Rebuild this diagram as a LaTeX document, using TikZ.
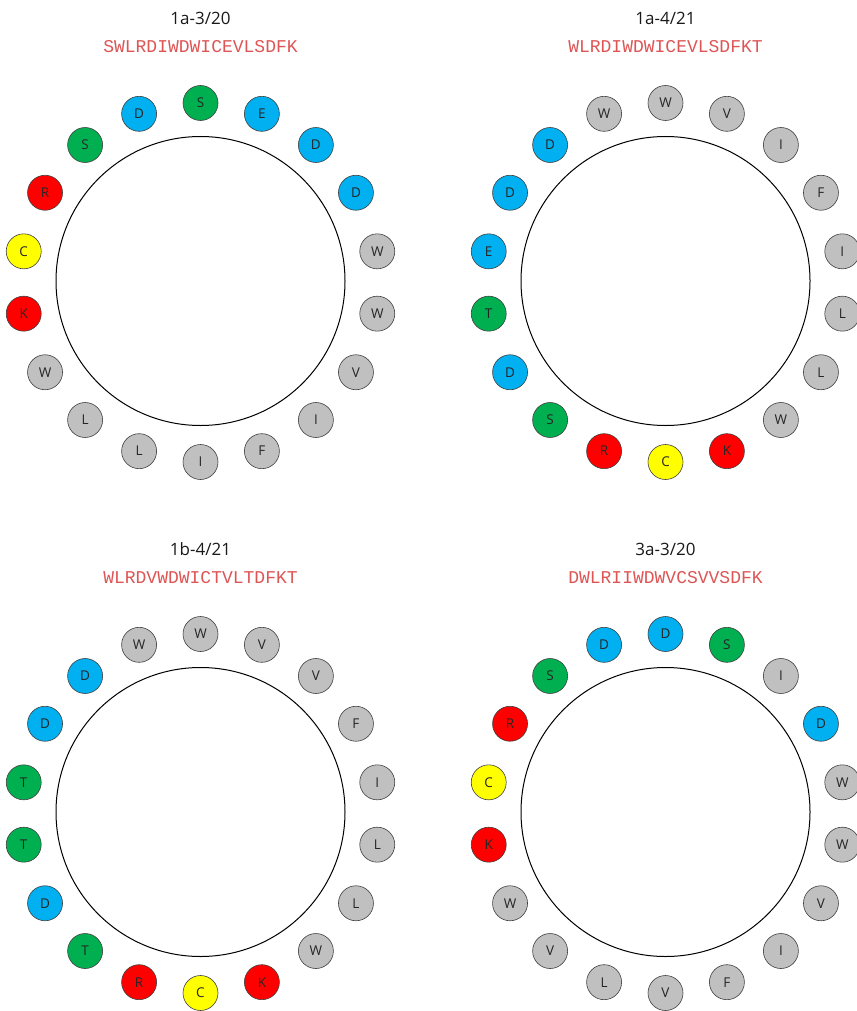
\documentclass[tikz,border=0pt]{standalone}
\usepackage{fontspec}
\setmainfont{Open Sans}
\newfontfamily\seqfont{Liberation Mono}
\definecolor{cb}{RGB}{0,176,240}
\definecolor{cg}{RGB}{0,176,80}
\definecolor{cr}{RGB}{255,0,0}
\definecolor{cy}{RGB}{255,255,0}
\definecolor{cgr}{RGB}{192,192,192}
\definecolor{seqred}{RGB}{222,85,85}
\newcommand\drawpanel[6]{%
  \node[titletext] (#1-title) at (#2,#3-263) {#4};
  \node[seqtext] (#1-seq) at (#2,#3-234.5) {#5};
  \node[ring] (#1-ring) at (#2,#3) {};
  \foreach \l/\c [count=\i from 0] in {#6} {
    \node[bead,fill=\c] (#1-\i) at ({#2+179.5*cos(90-20*\i)},{#3+1.5-179.5*sin(90-20*\i)}) {\l};
  }
}
\begin{document}
\begin{tikzpicture}[x=1pt,y=-1pt,
  bead/.style={circle,draw=black!75,line width=0.6pt,minimum size=35pt,inner sep=0pt,font=\fontsize{13.5}{13.5}\selectfont,text=black!85},
  ring/.style={circle,draw=black,line width=1pt,minimum size=289pt,inner sep=0pt},
  titletext/.style={font=\fontsize{17}{17}\selectfont,text=black!90,inner sep=0pt},
  seqtext/.style={font=\seqfont\fontsize{18}{18}\selectfont,text=seqred,inner sep=0pt}]
\useasboundingbox (0,0) rectangle (856,1011);
\drawpanel{a}{200.5}{281}{1a-3/20}{SWLRDIWDWICEVLSDFK}{S/cg,E/cb,D/cb,D/cb,W/cgr,W/cgr,V/cgr,I/cgr,F/cgr,I/cgr,L/cgr,L/cgr,W/cgr,K/cr,C/cy,R/cr,S/cg,D/cb}
\drawpanel{b}{665.5}{281}{1a-4/21}{WLRDIWDWICEVLSDFKT}{W/cgr,V/cgr,I/cgr,F/cgr,I/cgr,L/cgr,L/cgr,W/cgr,K/cr,C/cy,R/cr,S/cg,D/cb,T/cg,E/cb,D/cb,D/cb,W/cgr}
\drawpanel{c}{200.5}{812}{1b-4/21}{WLRDVWDWICTVLTDFKT}{W/cgr,V/cgr,V/cgr,F/cgr,I/cgr,L/cgr,L/cgr,W/cgr,K/cr,C/cy,R/cr,T/cg,D/cb,T/cg,T/cg,D/cb,D/cb,W/cgr}
\drawpanel{d}{665.5}{812}{3a-3/20}{DWLRIIWDWVCSVVSDFK}{D/cb,S/cg,I/cgr,D/cb,W/cgr,W/cgr,V/cgr,I/cgr,F/cgr,V/cgr,L/cgr,V/cgr,W/cgr,K/cr,C/cy,R/cr,S/cg,D/cb}
\end{tikzpicture}
\end{document}
